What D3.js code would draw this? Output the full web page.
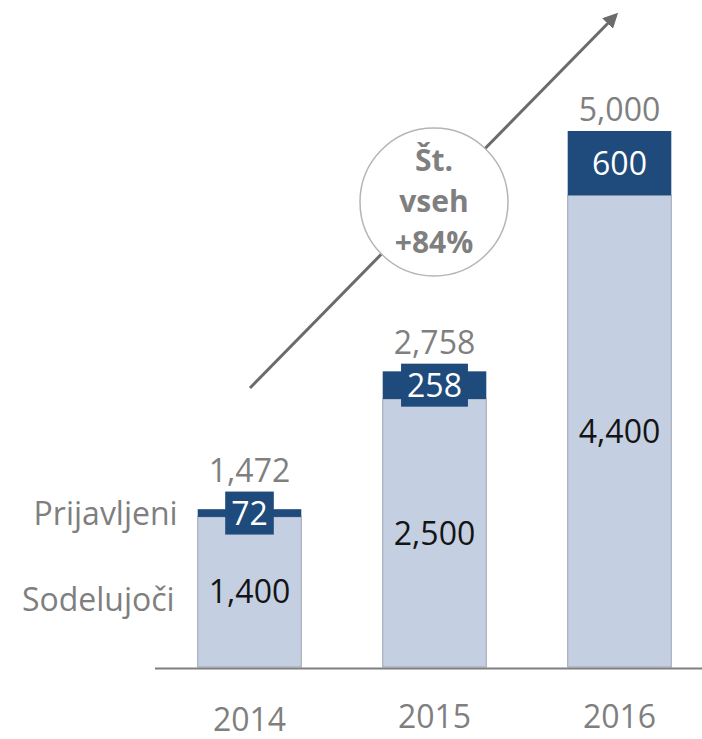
<!DOCTYPE html>
<html>
<head>
<meta charset="utf-8">
<script src="https://cdn.jsdelivr.net/npm/d3@7"></script>
<style>
  body { margin: 0; background: #fff; }
  text { font-family: "Open Sans", sans-serif; }
</style>
</head>
<body>
<svg id="chart"></svg>
<script>
(() => {

    const WIDTH = 702;
    const HEIGHT = 739;

    const years = ["2014", "2015", "2016"];
    const participants = [1400, 2500, 4400];   // Sodelujoči
    const registered = [72, 258, 600];         // Prijavljeni
    const totals = [1472, 2758, 5000];
    const seriesNames = ["Prijavljeni", "Sodelujoči"];
    const growthLines = ["Št.", "vseh", "+84%"];

    const LIGHT = "#c4cfe1";
    const LIGHT_STROKE = "#9ea6b4";
    const DARK = "#1f4a7c";
    const GREY = "#7f7f7f";
    const FONT_SIZE = 32;

    const fmt = d3.format(",");

    let svg = d3.select("#chart")
        .attr("width", WIDTH)
        .attr("height", HEIGHT);

    let x = d3.scaleBand()
        .domain(years)
        .range([157, 712])
        .paddingInner(0.44)
        .paddingOuter(0.22);

    let y = d3.scaleLinear()
        .domain([0, 5000])
        .range([667, 131]);

    let rows = years.map((year, i) => ({
        year: year,
        low: participants[i],
        high: registered[i],
        total: totals[i]
    }));

    // light segments
    svg.selectAll("rect.low")
        .data(rows)
        .enter()
        .append("rect")
        .attr("class", "low")
        .attr("x", d => x(d.year))
        .attr("width", x.bandwidth())
        .attr("y", d => y(d.low))
        .attr("height", d => y(0) - y(d.low))
        .attr("fill", LIGHT)
        .attr("stroke", LIGHT_STROKE)
        .attr("stroke-width", 1);

    // dark segments
    svg.selectAll("rect.high")
        .data(rows)
        .enter()
        .append("rect")
        .attr("class", "high")
        .attr("x", d => x(d.year))
        .attr("width", x.bandwidth())
        .attr("y", d => y(d.total))
        .attr("height", d => y(d.low) - y(d.total))
        .attr("fill", DARK);

    // baseline
    svg.append("line")
        .attr("x1", 155)
        .attr("x2", WIDTH)
        .attr("y1", y(0) + 1.5)
        .attr("y2", y(0) + 1.5)
        .attr("stroke", GREY)
        .attr("stroke-width", 2);

    // inner labels
    svg.selectAll("text.low")
        .data(rows)
        .enter()
        .append("text")
        .attr("class", "low")
        .attr("x", d => x(d.year) + x.bandwidth() / 2)
        .attr("y", d => y(d.low / 2))
        .attr("dy", "0.36em")
        .attr("text-anchor", "middle")
        .attr("font-size", FONT_SIZE)
        .attr("fill", "#141414")
        .text(d => fmt(d.low));

    // dark labels, boxed when the segment is too thin
    let boxTops = [];
    rows.forEach((d, i) => {
        let cx = x(d.year) + x.bandwidth() / 2;
        let cy = (y(d.total) + y(d.low)) / 2;
        let segH = y(d.low) - y(d.total);
        let g = svg.append("g");
        let box = g.append("rect").attr("fill", DARK);
        let label = g.append("text")
            .attr("x", cx)
            .attr("y", cy)
            .attr("dy", "0.36em")
            .attr("text-anchor", "middle")
            .attr("font-size", FONT_SIZE)
            .attr("fill", "#fff")
            .text(fmt(d.high));
        if (segH < 40) {
            let bb = label.node().getBBox();
            let w = bb.width + 12;
            let h = 43;
            box.attr("x", cx - w / 2)
                .attr("y", cy - h / 2)
                .attr("width", w)
                .attr("height", h);
            boxTops[i] = cy - h / 2;
        }
        else {
            box.remove();
            boxTops[i] = y(d.total);
        }
    });

    // totals
    svg.selectAll("text.total")
        .data(rows)
        .enter()
        .append("text")
        .attr("class", "total")
        .attr("x", d => x(d.year) + x.bandwidth() / 2)
        .attr("y", (d, i) => boxTops[i] - 10)
        .attr("text-anchor", "middle")
        .attr("font-size", FONT_SIZE)
        .attr("fill", GREY)
        .text(d => fmt(d.total));

    // year labels
    svg.selectAll("text.year")
        .data(rows)
        .enter()
        .append("text")
        .attr("class", "year")
        .attr("x", d => x(d.year) + x.bandwidth() / 2)
        .attr("y", (d, i) => i === 0 ? 731 : 728)
        .attr("text-anchor", "middle")
        .attr("font-size", FONT_SIZE)
        .attr("fill", GREY)
        .text(d => d.year);

    // series names beside the first bar
    let first = rows[0];
    svg.append("text")
        .attr("x", x(first.year) - 20)
        .attr("y", (y(first.total) + y(first.low)) / 2)
        .attr("dy", "0.36em")
        .attr("text-anchor", "end")
        .attr("font-size", FONT_SIZE)
        .attr("fill", GREY)
        .text(seriesNames[0]);
    svg.append("text")
        .attr("x", x(first.year) - 23)
        .attr("y", y(first.low / 2) + 8)
        .attr("dy", "0.36em")
        .attr("text-anchor", "end")
        .attr("font-size", FONT_SIZE)
        .attr("fill", GREY)
        .text(seriesNames[1]);

    // growth arrow
    svg.append("defs").append("marker")
        .attr("id", "head")
        .attr("viewBox", "0 0 10 10")
        .attr("refX", 8)
        .attr("refY", 5)
        .attr("markerWidth", 5)
        .attr("markerHeight", 5)
        .attr("orient", "auto")
        .append("path")
        .attr("d", "M0,0L10,5L0,10z")
        .attr("fill", "#6b6b6b");

    svg.append("line")
        .attr("x1", 250)
        .attr("y1", 388)
        .attr("x2", 616)
        .attr("y2", 15)
        .attr("stroke", "#6b6b6b")
        .attr("stroke-width", 3)
        .attr("marker-end", "url(#head)");

    svg.append("circle")
        .attr("cx", 434)
        .attr("cy", 202)
        .attr("r", 74)
        .attr("fill", "#fff")
        .attr("stroke", "#b5b5b5")
        .attr("stroke-width", 1.5);

    svg.selectAll("text.growth")
        .data(growthLines)
        .enter()
        .append("text")
        .attr("class", "growth")
        .attr("x", 434)
        .attr("y", (d, i) => 171 + i * 41)
        .attr("text-anchor", "middle")
        .attr("font-size", 30)
        .attr("font-weight", "bold")
        .attr("fill", GREY)
        .text(d => d);

})();
</script>
</body>
</html>
